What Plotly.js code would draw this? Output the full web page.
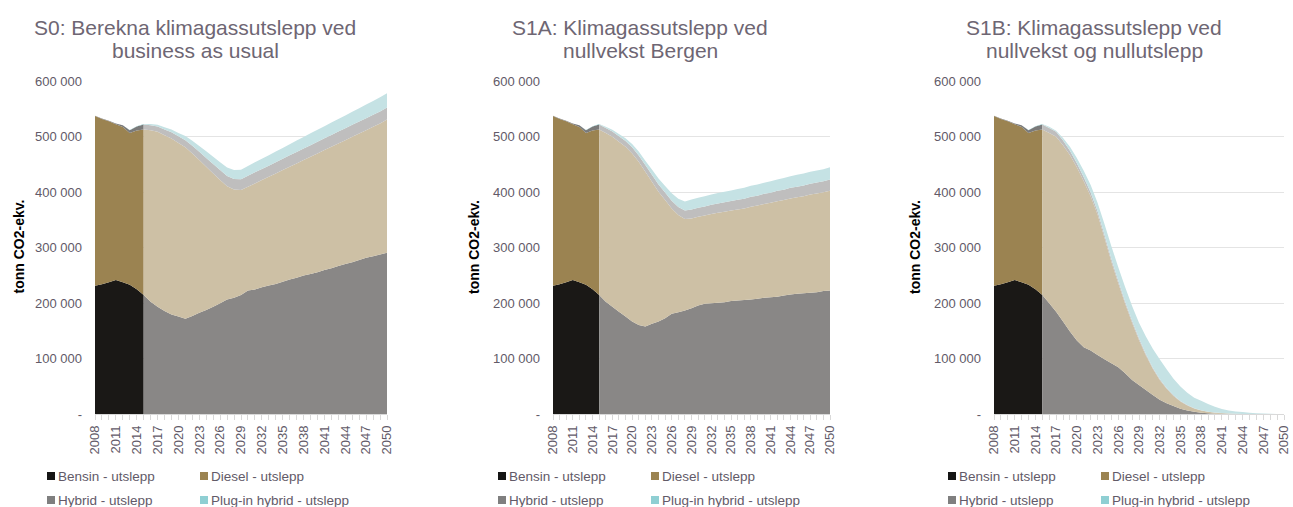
<!DOCTYPE html>
<html>
<head>
<meta charset="utf-8">
<script src="https://cdn.plot.ly/plotly-3.0.1.min.js"></script>
<style>html,body{margin:0;padding:0;background:#fff}#chart{width:1293px;height:507px}</style>
</head>
<body>
<div id="chart"></div>
<script>
// ---- Data (thousand tonnes CO2-ekv.) ----
const histYears = [2008,2009,2010,2011,2012,2013,2014,2015];
const projYears = [2015,2016,2017,2018,2019,2020,2021,2022,2023,2024,2025,2026,2027,2028,2029,2030,2031,2032,
                   2033,2034,2035,2036,2037,2038,2039,2040,2041,2042,2043,2044,2045,2046,2047,2048,2049,2050];
const tickYears = [2008,2011,2014,2017,2020,2023,2026,2029,2032,2035,2038,2041,2044,2047,2050];
const yTickVals = [0,100,200,300,400,500,600];
const yTickText = ['-','100 000','200 000','300 000','400 000','500 000','600 000'];

const seriesNames = ['Bensin - utslepp','Diesel - utslepp','Hybrid - utslepp','Plug-in hybrid - utslepp'];
const scenarioTitles = [
  ['S0: Berekna klimagassutslepp ved','business as usual'],
  ['S1A: Klimagassutslepp ved','nullvekst Bergen'],
  ['S1B: Klimagassutslepp ved','nullvekst og nullutslepp']
];

// historical (same in all scenarios)
const bensinHist = [231.8,234.2,237.8,242,237.8,233.6,225.2,215];
const dieselHist = [305.7,298,290,280.5,280,273.4,286,298];
const hybridHist = [0.5,0.8,1,1.5,3,5,7.5,9];
const pluginHist = [0,0,0,0,0.1,0.3,0.5,1];

// S0 projections
const s0Bensin = [215,203,194,186,180,176,172,177,183,188,194,200,207,210,215,223,225,229,232,235,239,243,246,250,253,256,260,263,267,271,274,278,282,285,288,291];
const s0Diesel = [298,309,315,317,317,313,309,293,275,258,240,222,204,195,189,187,191,193,196,199,201,203,206,208,211,214,216,219,221,223,226,228,230,233,236,240];
const s0Hybrid = [9,9,9.5,10,11,12,13,14,15,16,17,18,18.5,19,19.5,20,20,20,20,20.2,20.4,20.6,20.8,21,21,21,21.2,21.2,21.4,21.4,21.5,21.5,21.6,21.6,21.6,21.6];
const s0Plugin = [1,2,3,4,5,6,7.5,9,10.5,12,13,14,15,16,17,17.5,18,18.4,18.8,19.2,19.6,20,20.4,20.8,21.2,21.6,22,22.4,22.8,23.2,23.6,24,24.5,25,25.5,26];

// S1A projections
const s1aBensin = [215,203,194,185,176,167,161,158,163,167,173,181,184,187,191,196,199,200,201,202,204,205,206,207,208,210,211,212,214,216,217,218,219,220,222,223];
const s1aDiesel = [298,304,306,306,306,303,294,279,256,234,213,190,175,165,162,160,159,161,162,163,163,164,165,167,168,169,170,172,172,173,174,175,177,178,178,180];
const s1aHybrid = [9,9,9.5,10,10.5,11,11.5,12,12.5,13,13.5,14,14.5,15,16,16.2,16.4,16.6,16.8,17,17.2,17.4,17.6,17.8,18,18.2,18.4,18.6,18.8,19,19.2,19.4,19.6,19.7,19.8,20];
const s1aPlugin = [1,2,3,4,5,6,7,8,9.5,11,12,13.5,15,16.5,18,18.2,18.4,18.6,18.8,19,19.2,19.4,19.6,19.8,20,20.2,20.4,20.6,20.8,21,21.2,21.4,21.6,21.7,21.8,22];

// S1B projections
const s1bBensin = [215,200,185,167,149,133,121,115,107,99,92,85,74,62,53,44,35,26,20,15,10,7,4.7,3,1.8,1.1,0.7,0.4,0.25,0.15,0.1,0.06,0.04,0.03,0.02,0.01];
const s1bDiesel = [298,307,315,318,318,312,299,278,253,219,183,151,125,103,81,62,47,36,26,18,13,9,5.8,4,2.7,1.9,1.3,0.9,0.55,0.35,0.2,0.14,0.06,0.02,0.02,0.02];
const s1bHybrid = [9,9,9,8.5,8,7.5,7,6.5,6,5.5,5,4.5,4,3.5,3,2.5,2,1.7,1.4,1.1,0.9,0.7,0.5,0.4,0.3,0.2,0.15,0.1,0.08,0.06,0.05,0.04,0.03,0.02,0.02,0.01];
const s1bPlugin = [1,2,2,4.5,7,9.5,12,13.5,15,19.5,23,24.5,26,26.5,28,31.5,34,35.3,33.6,29.9,26.1,22.3,19,17,13.7,10.3,7.3,5.6,4.1,3.4,2.6,1.8,1.2,0.8,0.5,0.3];

const histSeries = [bensinHist, dieselHist, hybridHist, pluginHist];
const projSeries = [
  [s0Bensin, s0Diesel, s0Hybrid, s0Plugin],
  [s1aBensin, s1aDiesel, s1aHybrid, s1aPlugin],
  [s1bBensin, s1bDiesel, s1bHybrid, s1bPlugin]
];

// ---- Styles ----
const histColors = ['#1a1816','#9b8351','#7a7a7a','#92cdd0'];
const projColors = ['#898786','#cdc0a5','#bfbebe','#c5e2e4'];
const legendColors = ['#151515','#9b8351','#7f7f7f','#8fcfd3'];
const textColor = '#625a68';
const titleColor = '#6e6673';
const FONT = 'Liberation Sans, Arial, sans-serif';

const W = 1293, H = 507;
const plotX = [[95,387],[553,830],[994,1284]];
const plotYTop = 81.3, plotYBot = 414.3;
const titleCenters = [195, 640, 1094];
const yTitleX = [18.5, 474, 915];
const legendCols = [[47,200],[498,651],[948,1101]];
const legendRows = [476, 500];

const traces = [];
const layout = {
  width: W, height: H,
  margin: {l:0, r:0, t:0, b:0},
  paper_bgcolor: '#fff', plot_bgcolor: '#fff',
  showlegend: false,
  font: {family: FONT, color: textColor, size: 13},
  annotations: [], shapes: []
};

for (let k = 0; k < 3; k++) {
  const sfx = k === 0 ? '' : String(k + 1);
  const xa = 'x' + sfx, ya = 'y' + sfx;
  for (let i = 0; i < 4; i++) {
    traces.push({
      type: 'scatter', mode: 'none', x: histYears, y: histSeries[i],
      stackgroup: 'h' + k, fillcolor: histColors[i], name: seriesNames[i],
      xaxis: xa, yaxis: ya, hoverinfo: 'skip', line: {width: 0}
    });
  }
  for (let i = 0; i < 4; i++) {
    traces.push({
      type: 'scatter', mode: 'none', x: projYears, y: projSeries[k][i],
      stackgroup: 'p' + k, fillcolor: projColors[i], name: seriesNames[i] + ' (framskriving)',
      xaxis: xa, yaxis: ya, hoverinfo: 'skip', line: {width: 0}
    });
  }
  layout['xaxis' + sfx] = {
    domain: [plotX[k][0] / W, plotX[k][1] / W], anchor: ya,
    range: [2008, 2050], tickmode: 'array', tickvals: tickYears,
    ticktext: tickYears.map(String), tickangle: -90, ticklabeloverflow: 'allow',
    ticks: 'outside', ticklen: 5, tickcolor: '#d9d9d9', tickwidth: 1,
    minor: {tick0: 2008, dtick: 1, ticks: 'outside', ticklen: 5, tickcolor: '#d9d9d9', showgrid: false},
    showgrid: false, zeroline: false, showline: true, linecolor: '#d9d9d9', linewidth: 1,
    tickfont: {family: FONT, size: 13, color: textColor}, fixedrange: true
  };
  layout['yaxis' + sfx] = {
    domain: [1 - plotYBot / H, 1 - plotYTop / H], anchor: xa,
    range: [0, 600], tickmode: 'array', tickvals: yTickVals, ticktext: yTickText,
    showgrid: true, gridcolor: '#e4e4e4', gridwidth: 1, zeroline: false, showline: false,
    ticks: '', ticklabelstandoff: 12,
    tickfont: {family: FONT, size: 13, color: textColor}, fixedrange: true
  };
  // titles (two lines)
  scenarioTitles[k].forEach((line, j) => {
    layout.annotations.push({
      xref: 'paper', yref: 'paper', x: titleCenters[k] / W, y: 1 - (28 + 23 * j) / H,
      xanchor: 'center', yanchor: 'middle', showarrow: false, borderpad: 0,
      text: line, font: {family: FONT, size: 21, color: titleColor}
    });
  });
  // y title
  layout.annotations.push({
    xref: 'paper', yref: 'paper', x: yTitleX[k] / W, y: 1 - 247 / H,
    xanchor: 'center', yanchor: 'middle', showarrow: false, textangle: -90,
    text: '<b>tonn CO2-ekv.</b>', font: {family: FONT, size: 14, color: '#000'}
  });
  // legend
  for (let i = 0; i < 4; i++) {
    const col = i % 2, row = Math.floor(i / 2);
    const sx = legendCols[k][col], cy = legendRows[row];
    layout.shapes.push({
      type: 'rect', xref: 'paper', yref: 'paper',
      x0: sx / W, x1: (sx + 8) / W, y0: 1 - (cy + 4) / H, y1: 1 - (cy - 4) / H,
      fillcolor: legendColors[i], line: {width: 0}
    });
    layout.annotations.push({
      xref: 'paper', yref: 'paper', x: (sx + 10) / W, y: 1 - cy / H,
      xanchor: 'left', yanchor: 'middle', showarrow: false, borderpad: 0,
      text: seriesNames[i], font: {family: FONT, size: 13.5, color: textColor}
    });
  }
}

Plotly.newPlot('chart', traces, layout, {staticPlot: true, displayModeBar: false});
</script>
</body>
</html>
